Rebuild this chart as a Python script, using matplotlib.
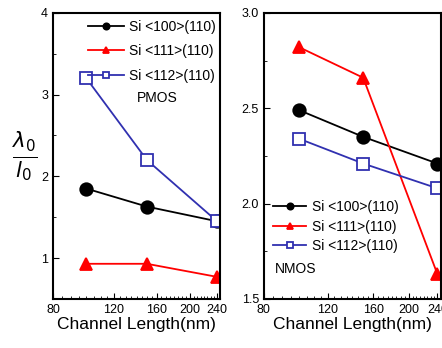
import matplotlib.pyplot as plt
from matplotlib.ticker import FixedLocator, NullFormatter, MultipleLocator, FormatStrFormatter

plt.rcParams['font.family'] = ['Liberation Sans', 'DejaVu Sans']

length = [100, 150, 240]
labels = ["Si <100>(110)", "Si <111>(110)", "Si <112>(110)"]

pmos_100 = [1.85, 1.63, 1.45]
pmos_111 = [0.93, 0.93, 0.77]
pmos_112 = [3.2, 2.2, 1.45]

nmos_100 = [2.49, 2.35, 2.21]
nmos_111 = [2.82, 2.66, 1.63]
nmos_112 = [2.34, 2.21, 2.08]

xticks = [80, 120, 160, 200, 240]

fig = plt.figure(figsize=(4.42, 3.48), dpi=100)
ax1 = fig.add_axes([0.12, 0.141, 0.378, 0.822])
ax2 = fig.add_axes([0.597, 0.141, 0.40, 0.822])

styles = [
    dict(color="black", marker="o", markersize=9, markerfacecolor="black"),
    dict(color="red", marker="^", markersize=9, markerfacecolor="red"),
    dict(color="#3030b0", marker="s", markersize=9, markerfacecolor="white"),
]

for ax, series in [(ax1, [pmos_100, pmos_111, pmos_112]), (ax2, [nmos_100, nmos_111, nmos_112])]:
    for vals, lab, st in zip(series, labels, styles):
        ax.plot(length, vals, label=lab, linewidth=1.3, markeredgewidth=1.3, **st)
    ax.set_xscale("log")
    ax.set_xlim(80, 245)
    ax.xaxis.set_major_locator(FixedLocator(xticks))
    ax.set_xticklabels([str(t) for t in xticks])
    ax.xaxis.set_minor_locator(FixedLocator(range(85, 245, 5)))
    ax.xaxis.set_minor_formatter(NullFormatter())
    ax.tick_params(which="both", direction="in", labelsize=9)
    ax.tick_params(which="major", length=4)
    ax.tick_params(which="minor", length=2)
    for sp in ax.spines.values():
        sp.set_linewidth(1.5)
    ax.set_xlabel("Channel Length(nm)", fontsize=12.5, labelpad=1)

ax1.set_ylim(0.5, 4)
ax1.yaxis.set_major_locator(MultipleLocator(1))
ax1.yaxis.set_minor_locator(MultipleLocator(0.5))
ax1.set_ylabel(r"$\frac{\lambda_0}{l_0}$", fontsize=22, rotation=0, labelpad=12, va="center")
ax1.legend(loc="upper left", bbox_to_anchor=(0.15, 1.01), frameon=False, fontsize=10,
           handlelength=2.6, handletextpad=0.4, markerscale=0.5, labelspacing=0.75,
           borderaxespad=0.3)
ax1.text(0.5, 0.69, "PMOS", transform=ax1.transAxes, fontsize=10)

ax2.set_ylim(1.5, 3.0)
ax2.yaxis.set_major_locator(MultipleLocator(0.5))
ax2.yaxis.set_minor_locator(MultipleLocator(0.25))
ax2.yaxis.set_major_formatter(FormatStrFormatter("%.1f"))
ax2.legend(loc="lower left", bbox_to_anchor=(0.02, 0.14), frameon=False, fontsize=10,
           handlelength=2.4, handletextpad=0.4, markerscale=0.5, labelspacing=0.4,
           borderaxespad=0.0)
ax2.text(0.06, 0.09, "NMOS", transform=ax2.transAxes, fontsize=10)

fig.savefig("out.png", dpi=100)
